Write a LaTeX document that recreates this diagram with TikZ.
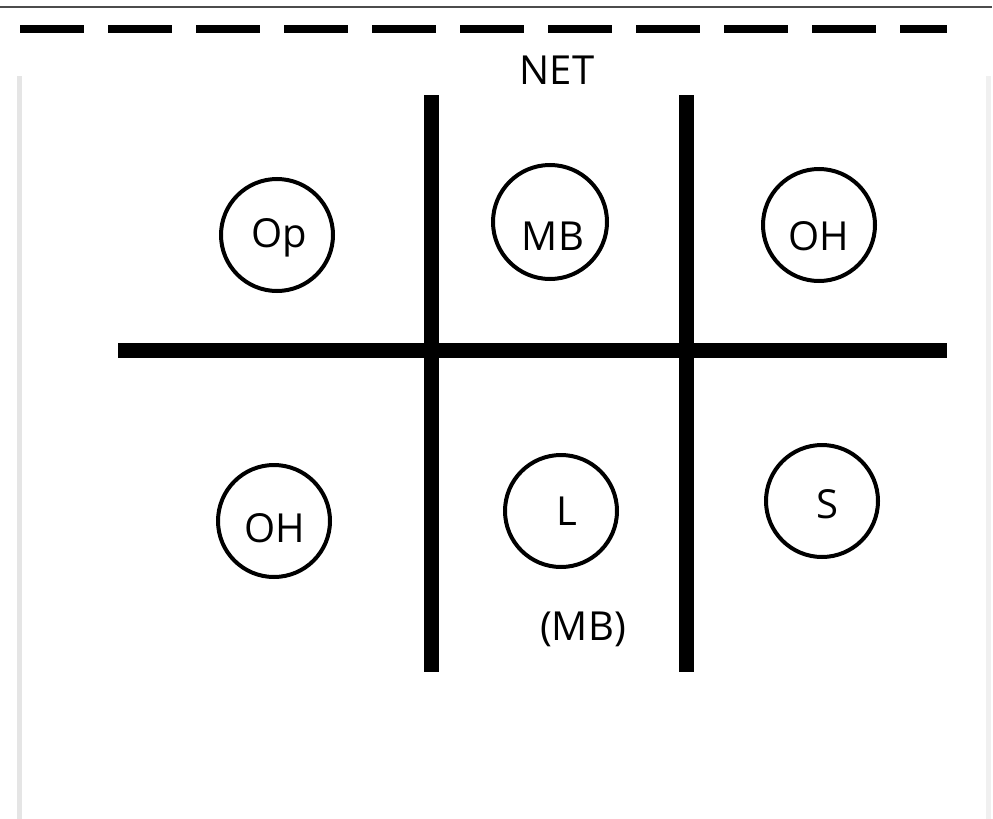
\documentclass[tikz,border=0pt]{standalone}
\usepackage{fontspec}
\setmainfont{Open Sans}
\begin{document}
\begin{tikzpicture}[x=1pt,y=-1pt,
  ring/.style={draw=black, line width=4pt, circle, minimum size=112pt, inner sep=0pt},
  lbl/.style={font=\fontsize{40}{44}\selectfont},
  bar/.style={line width=15pt, black}]
\useasboundingbox (0,0) rectangle (993,819);
\fill[white] (0,0) rectangle (993,819);
% top rule
\draw[line width=2.5pt, black!70] (0,7) -- (992,7);
% dashed rule
\draw[line width=8pt, dash pattern=on 64pt off 24pt] (20,29) -- (947,29);
% faint frame
\draw[line width=5pt, black!10] (19,76) -- (19,819);
\draw[line width=5pt, black!6] (988,76) -- (988,819);
% grid bars
\draw[bar] (118,350) -- (947,350);
\draw[bar] (431,95) -- (431,672);
\draw[bar] (686,95) -- (686,672);
% title
\node[lbl] (net) at (557,70) {NET};
% circles
\node[ring] (op) at (277,235) {};
\node[lbl] at (279,238) {Op};
\node[ring, minimum width=114pt, minimum height=104pt] (mb) at (550,222) {};
\node[lbl] at (553,236) {MB};
\node[ring] (oh1) at (819,225) {};
\node[lbl] at (819,236) {OH};
\node[ring] (oh2) at (274,521) {};
\node[lbl] at (275,528) {OH};
\node[ring] (l) at (561,511) {};
\node[lbl] at (567,511) {L};
\node[ring] (s) at (822,501) {};
\node[lbl] at (827,504) {S};
\node[lbl] (mbp) at (583,629) {(MB)};
\end{tikzpicture}
\end{document}
